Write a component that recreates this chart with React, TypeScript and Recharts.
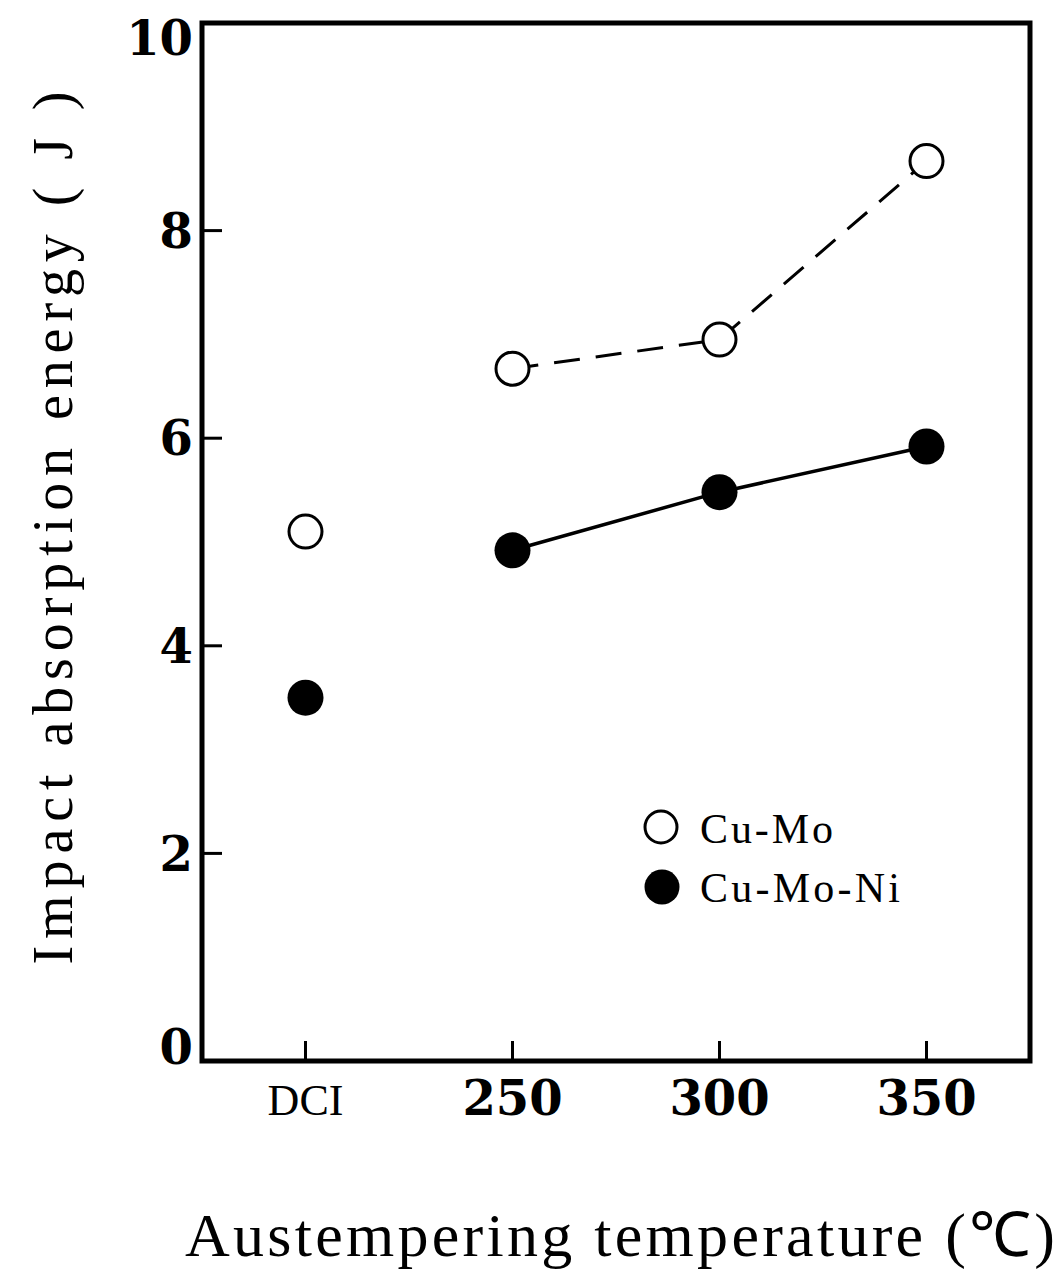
import {
  ComposedChart,
  Line,
  Scatter,
  XAxis,
  YAxis,
  ReferenceArea,
  Legend
} from "recharts"

// DCI is placed at 200 on the temperature axis so it sits one step left of 250
const temps = [200, 250, 300, 350]
const tickLabels = ["DCI", "250", "300", "350"]
const cuMo = [5.1, 6.67, 6.95, 8.67]
const cuMoNi = [3.5, 4.92, 5.48, 5.92]
const yTicks = [0, 2, 4, 6, 8, 10]

const seriesNames = ["Cu-Mo", "Cu-Mo-Ni"]

const cuMoPts = temps.map((t, i) => ({ temp: t, v: cuMo[i] }))
const cuMoNiPts = temps.map((t, i) => ({ temp: t, v: cuMoNi[i] }))

const serif = "'Liberation Serif', 'Times New Roman', serif"
const numFont = "'DejaVu Serif', serif"

function XTick(props: any) {
  const { x, y, payload } = props
  const i = temps.indexOf(payload.value)
  const dci = i === 0
  return (
    <g>
      <line x1={x} y1={y} x2={x} y2={y - 20} stroke="#000" strokeWidth={3} />
      <text
        x={x}
        y={y + 54}
        textAnchor="middle"
        fontFamily={dci ? serif : numFont}
        fontWeight={dci ? 400 : 700}
        fontSize={dci ? 44 : 48}
        fill="#000"
      >
        {tickLabels[i]}
      </text>
    </g>
  )
}

function YTick(props: any) {
  const { x, y, payload } = props
  const v = payload.value
  let shift = 0
  if (v === 10) shift = 15
  if (v === 0) shift = -14
  return (
    <g>
      {v > 0 && v < 10 && (
        <line x1={x} y1={y} x2={x + 20} y2={y} stroke="#000" strokeWidth={3} />
      )}
      <text
        x={x - 9}
        y={y + shift}
        dy="0.36em"
        textAnchor="end"
        fontFamily={numFont}
        fontWeight={700}
        fontSize={48}
        fill="#000"
      >
        {v}
      </text>
    </g>
  )
}

function OpenDot(props: any) {
  return <circle cx={props.cx} cy={props.cy} r={16.5} fill="#fff" stroke="#000" strokeWidth={3} />
}

function FilledDot(props: any) {
  return <circle cx={props.cx} cy={props.cy} r={18} fill="#000" />
}

function LegendBox() {
  return (
    <svg width={320} height={130}>
      <circle cx={31} cy={32} r={16} fill="#fff" stroke="#000" strokeWidth={3} />
      <circle cx={32} cy={92} r={17.5} fill="#000" />
      <text x={70} y={48} fontFamily={serif} fontSize={42} textLength={133} lengthAdjust="spacing">
        {seriesNames[0]}
      </text>
      <text x={70} y={107} fontFamily={serif} fontSize={42} textLength={200} lengthAdjust="spacing">
        {seriesNames[1]}
      </text>
    </svg>
  )
}

export default function App() {
  return (
    <div style={{ position: "absolute", left: 0, top: 0, background: "#fff" }}>
      <ComposedChart
        width={1056}
        height={1270}
        margin={{ top: 23, right: 26, bottom: 149, left: 142 }}
      >
        <XAxis
          type="number"
          dataKey="temp"
          domain={[175, 375]}
          ticks={temps}
          axisLine={false}
          tickLine={false}
          tickSize={0}
          tickMargin={0}
          height={60}
          tick={<XTick />}
          interval={0}
        />
        <YAxis
          type="number"
          dataKey="v"
          domain={[0, 10]}
          ticks={yTicks}
          axisLine={false}
          tickLine={false}
          tickSize={0}
          tickMargin={0}
          width={60}
          tick={<YTick />}
          interval={0}
        />
        <ReferenceArea
          x1={175}
          x2={375}
          y1={0}
          y2={10}
          fill="none"
          fillOpacity={0}
          stroke="#000"
          strokeWidth={5}
        />
        <Line
          data={cuMoPts.slice(1)}
          dataKey="v"
          stroke="#000"
          strokeWidth={3}
          strokeDasharray="26 16"
          dot={false}
          isAnimationActive={false}
        />
        <Line
          data={cuMoNiPts.slice(1)}
          dataKey="v"
          stroke="#000"
          strokeWidth={3.5}
          dot={false}
          isAnimationActive={false}
        />
        <Scatter data={cuMoPts} name={seriesNames[0]} shape={<OpenDot />} isAnimationActive={false} />
        <Scatter data={cuMoNiPts} name={seriesNames[1]} shape={<FilledDot />} isAnimationActive={false} />
        <Legend
          layout="horizontal"
          verticalAlign="middle"
          align="center"
          content={() => <LegendBox />}
          wrapperStyle={{ position: "absolute", left: 630, top: 795, width: 320 }}
        />
        <text
          x={0}
          y={0}
          transform="translate(72 528) rotate(-90)"
          textAnchor="middle"
          fontFamily={serif}
          fontSize={56}
          textLength={873}
          lengthAdjust="spacing"
        >
          Impact absorption energy ( J )
        </text>
        <text
          x={620}
          y={1256}
          textAnchor="middle"
          fontFamily={serif}
          fontSize={62}
          textLength={870}
          lengthAdjust="spacing"
        >
          Austempering temperature (℃)
        </text>
      </ComposedChart>
    </div>
  )
}
